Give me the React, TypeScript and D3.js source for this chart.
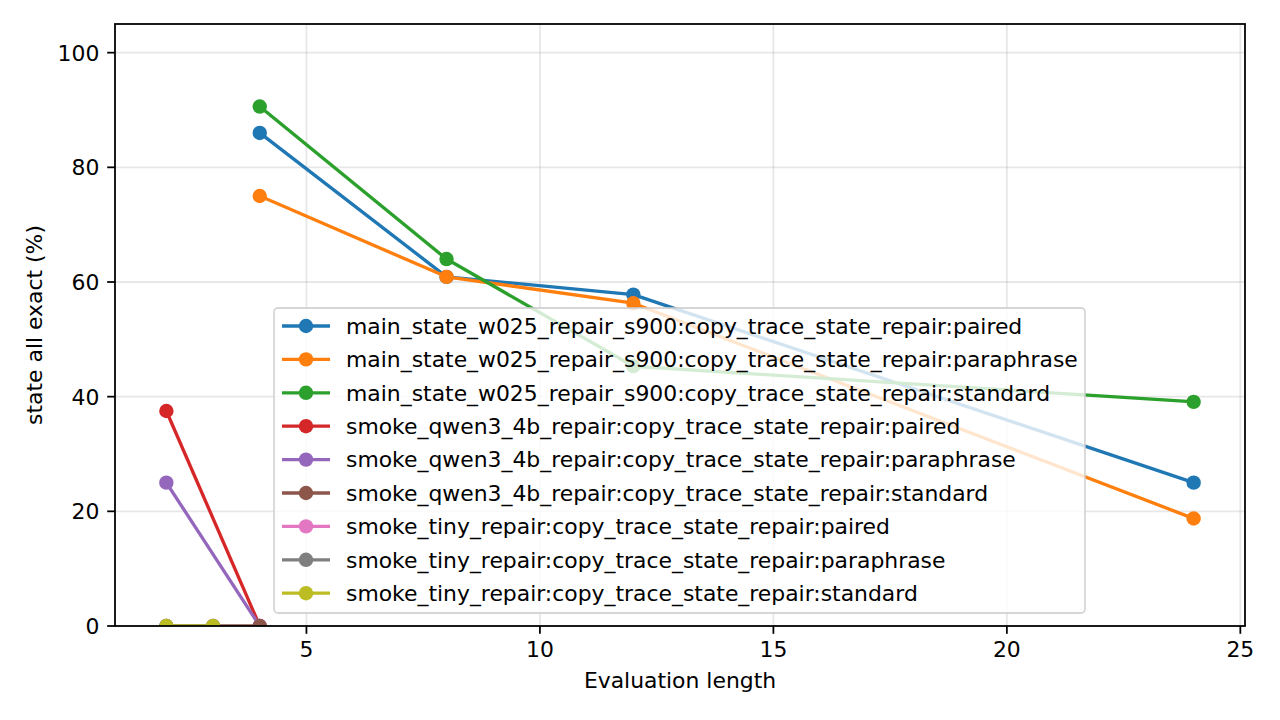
import React, { FC, useMemo } from "react";
import * as d3 from "d3";

// series
const seriesNames = [
    "main_state_w025_repair_s900:copy_trace_state_repair:paired",
    "main_state_w025_repair_s900:copy_trace_state_repair:paraphrase",
    "main_state_w025_repair_s900:copy_trace_state_repair:standard",
    "smoke_qwen3_4b_repair:copy_trace_state_repair:paired",
    "smoke_qwen3_4b_repair:copy_trace_state_repair:paraphrase",
    "smoke_qwen3_4b_repair:copy_trace_state_repair:standard",
    "smoke_tiny_repair:copy_trace_state_repair:paired",
    "smoke_tiny_repair:copy_trace_state_repair:paraphrase",
    "smoke_tiny_repair:copy_trace_state_repair:standard",
];

const seriesColors = [
    "#1f77b4", "#ff7f0e", "#2ca02c", "#d62728", "#9467bd",
    "#8c564b", "#e377c2", "#7f7f7f", "#bcbd22",
];

const mainLengths = [4, 8, 12, 24];
const qwenLengths = [2, 4];
const tinyLengths = [2, 3];

const mainPaired = [86.0, 60.9, 57.8, 25.0];
const mainParaphrase = [75.0, 60.9, 56.3, 18.75];
const mainStandard = [90.6, 64.0, 45.3, 39.1];
const qwenPaired = [37.5, 0];
const qwenParaphrase = [25.0, 0];
const qwenStandard = [0, 0];
const tinyPaired = [0, 0];
const tinyParaphrase = [0, 0];
const tinyStandard = [0, 0];

const seriesX = [
    mainLengths, mainLengths, mainLengths,
    qwenLengths, qwenLengths, qwenLengths,
    tinyLengths, tinyLengths, tinyLengths,
];
const seriesY = [
    mainPaired, mainParaphrase, mainStandard,
    qwenPaired, qwenParaphrase, qwenStandard,
    tinyPaired, tinyParaphrase, tinyStandard,
];

const xTicks = [5, 10, 15, 20, 25];
const yTicks = [0, 20, 40, 60, 80, 100];

const W = 1280;
const H = 720;
const margin = { left: 115, right: 35, top: 24, bottom: 94 };
const font = "DejaVu Sans, sans-serif";
const fontSize = 21.9;
const lw = 3.33; // 1.5pt at 160 dpi
const spineW = 1.78;
const tickLen = 7.8;
const markerR = 7.2;

const App: FC = () => {
    const x = useMemo(
        () => d3.scaleLinear([0.9, 25.1], [margin.left, W - margin.right]),
        []
    );
    const y = useMemo(
        () => d3.scaleLinear([0, 105], [H - margin.bottom, margin.top]),
        []
    );

    const line = useMemo(
        () =>
            d3
                .line<[number, number]>()
                .x((d) => x(d[0]))
                .y((d) => y(d[1])),
        [x, y]
    );

    const series = seriesNames.map((name, i) => ({
        name,
        color: seriesColors[i],
        points: seriesX[i].map((v, j) => [v, seriesY[i][j]] as [number, number]),
    }));

    const x0 = margin.left;
    const x1 = W - margin.right;
    const y0 = H - margin.bottom;
    const y1 = margin.top;

    // legend layout
    const lg = { left: 274, top: 308, width: 811, height: 305, row0: 326, step: 33.4 };

    return (
        <svg
            width={W}
            height={H}
            style={{ position: "absolute", top: 0, left: 0, background: "#fff" }}
            fontFamily={font}
        >
            <defs>
                <clipPath id="plot-area">
                    <rect x={x0} y={y1} width={x1 - x0} height={y0 - y1} />
                </clipPath>
            </defs>
            <rect width={W} height={H} fill="#fff" />

            {/* grid */}
            <g stroke="#b0b0b0" strokeOpacity={0.3} strokeWidth={spineW}>
                {xTicks.map((t) => (
                    <line key={"gx" + t} x1={x(t)} x2={x(t)} y1={y1} y2={y0} />
                ))}
                {yTicks.map((t) => (
                    <line key={"gy" + t} x1={x0} x2={x1} y1={y(t)} y2={y(t)} />
                ))}
            </g>

            {/* series */}
            <g clipPath="url(#plot-area)">
                {series.map((s) => (
                    <g key={s.name}>
                        <path
                            d={line(s.points) || ""}
                            fill="none"
                            stroke={s.color}
                            strokeWidth={lw}
                            strokeLinejoin="round"
                            strokeLinecap="square"
                        />
                        {s.points.map((p, j) => (
                            <circle key={j} cx={x(p[0])} cy={y(p[1])} r={markerR} fill={s.color} />
                        ))}
                    </g>
                ))}
            </g>

            {/* spines */}
            <rect
                x={x0}
                y={y1}
                width={x1 - x0}
                height={y0 - y1}
                fill="none"
                stroke="#000"
                strokeWidth={spineW}
            />

            {/* x ticks */}
            {xTicks.map((t) => (
                <g key={"xt" + t}>
                    <line x1={x(t)} x2={x(t)} y1={y0} y2={y0 + tickLen} stroke="#000" strokeWidth={spineW} />
                    <text x={x(t)} y={657} textAnchor="middle" fontSize={fontSize}>
                        {t}
                    </text>
                </g>
            ))}

            {/* y ticks */}
            {yTicks.map((t) => (
                <g key={"yt" + t}>
                    <line x1={x0 - tickLen} x2={x0} y1={y(t)} y2={y(t)} stroke="#000" strokeWidth={spineW} />
                    <text x={x0 - 2 * tickLen} y={y(t)} dy="0.36em" textAnchor="end" fontSize={fontSize}>
                        {t}
                    </text>
                </g>
            ))}

            {/* axis labels */}
            <text x={(x0 + x1) / 2} y={688} textAnchor="middle" fontSize={fontSize}>
                Evaluation length
            </text>
            <text
                transform={`translate(42,${(y0 + y1) / 2}) rotate(-90)`}
                textAnchor="middle"
                fontSize={fontSize}
            >
                state all exact (%)
            </text>

            {/* legend */}
            <g>
                <rect
                    x={lg.left}
                    y={lg.top}
                    width={lg.width}
                    height={lg.height}
                    rx={4}
                    fill="#fff"
                    fillOpacity={0.8}
                    stroke="#cccccc"
                    strokeOpacity={0.8}
                    strokeWidth={spineW}
                />
                {series.map((s, i) => {
                    const cy = lg.row0 + i * lg.step;
                    return (
                        <g key={"lg" + s.name}>
                            <line x1={282} x2={330} y1={cy} y2={cy} stroke={s.color} strokeWidth={lw} />
                            <circle cx={306} cy={cy} r={markerR} fill={s.color} />
                            <text x={346} y={cy} dy="0.36em" fontSize={fontSize}>
                                {s.name}
                            </text>
                        </g>
                    );
                })}
            </g>
        </svg>
    );
};

export default App;
